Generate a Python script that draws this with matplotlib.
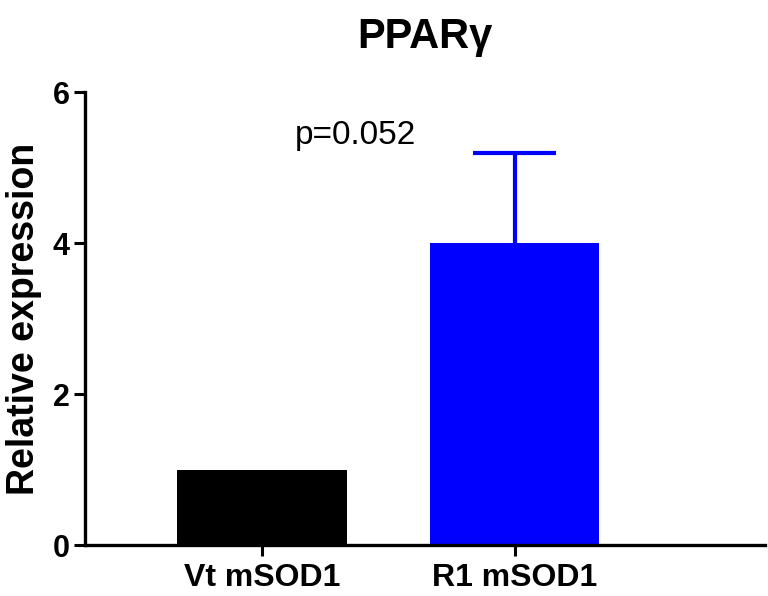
import matplotlib
matplotlib.use("Agg")
import matplotlib.pyplot as plt

groups = ["Vt mSOD1", "R1 mSOD1"]
means = [1.0, 4.0]
errs = [0.0, 1.2]
colors = ["#000000", "#0000ff"]
title = "PPARγ"
p_text = "p=0.052"

plt.rcParams["font.family"] = ["Liberation Sans", "DejaVu Sans"]

fig = plt.figure(figsize=(7.68, 5.96), dpi=100)
ax = fig.add_axes([0.111, 0.085, 0.885, 0.76])

x = list(range(len(groups)))
ax.bar(x, means, width=0.67, color=colors, zorder=2)
# upper-only error bars (as in the Prism export)
cap = 0.165
for xi, m, e, c in zip(x, means, errs, colors):
    if e > 0:
        ax.vlines(xi, m, m + e, color=c, linewidth=3, zorder=1)
        ax.hlines(m + e, xi - cap, xi + cap, color=c, linewidth=3, zorder=1)

ax.set_xlim(-0.7, 1.99)
ax.set_ylim(0, 6)
ax.set_yticks([0, 2, 4, 6])
ax.set_xticks(x)
ax.set_xticklabels(groups, fontsize=23, fontweight="bold")
ax.tick_params(axis="y", labelsize=22, width=2.2, length=8, pad=3)
ax.tick_params(axis="x", width=2.2, length=8, pad=5)
for lab in ax.get_yticklabels():
    lab.set_fontweight("bold")

for s in ["top", "right"]:
    ax.spines[s].set_visible(False)
for s in ["left", "bottom"]:
    ax.spines[s].set_linewidth(2.4)

ax.set_ylabel("Relative expression", fontsize=27, fontweight="bold", labelpad=8)
ax.set_title(title, fontsize=30, fontweight="bold", pad=32)
ax.text(0.37, 5.43, p_text, fontsize=24, ha="center", va="center")

fig.savefig("out.png", dpi=100)
